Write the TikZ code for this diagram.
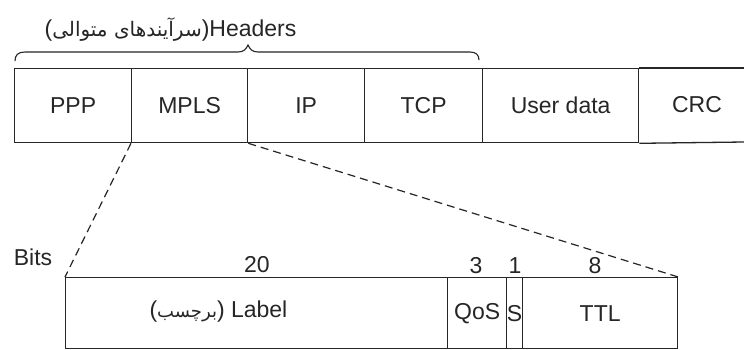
\documentclass[tikz,border=0pt]{standalone}
\usepackage{fontspec}
\setmainfont{Liberation Sans}
\newfontfamily\arabicfont[Script=Arabic]{DejaVu Sans}
\TeXXeTstate=1
\begin{document}
\begin{tikzpicture}[x=1pt,y=-1pt,line width=1.3pt,
  txt/.style={font=\fontsize{23}{26}\selectfont,inner sep=0pt,text=black!85},
  cell/.style={draw=black!85,minimum height=74pt,inner sep=0pt,anchor=north west,font=\fontsize{23}{26}\selectfont,text=black!85},
  bcell/.style={draw=black!85,minimum height=71pt,inner sep=0pt,anchor=north west,font=\fontsize{23}{26}\selectfont,text=black!85},
  dashline/.style={draw=black!85,dash pattern=on 8pt off 5pt,line width=1.2pt}]
\useasboundingbox (0,0) rectangle (744,349);
\fill[white] (0,0) rectangle (744,349);
% header text
\node[txt,anchor=east] (hdr) at (297,30) {({\arabicfont\fontsize{20}{24}\selectfont\beginR سرآیندهای متوالی\endR})Headers};
% brace
\draw[black!85,line width=1.1pt] (15,61) .. controls (15,55) and (18,52) .. (25,52) -- (238,52)
  .. controls (244,52) and (246,49) .. (248,45) .. controls (250,49) and (252,52) .. (258,52)
  -- (470,52) .. controls (476,52) and (479,55) .. (479,60);
% top row
\node[cell,minimum width=117pt] (ppp) at (14,68) {PPP};
\node[cell,minimum width=116pt] (mpls) at (131,68) {MPLS};
\node[cell,minimum width=117pt] (ip) at (247,68) {IP};
\node[cell,minimum width=118pt] (tcp) at (364,68) {TCP};
\node[cell,minimum width=156pt] (ud) at (482,68) {User data};
\node[txt] (crc) at (697,105) {CRC};
\coordinate (rt) at (744,68);
\coordinate (rb) at (744,142);
\draw[black!85] (ud.north east) -- (rt);
\draw[black!85] (ud.south east) -- (rb);
% bottom row
\node[bcell,minimum width=382pt] (lab) at (65,277) {};
\node[bcell,minimum width=59pt] (qos) at (447,277) {QoS};
\node[bcell,minimum width=16pt] (s) at (506,277) {S};
\node[bcell,minimum width=155pt] (ttl) at (522,277) {TTL};
\node[txt,anchor=east] (labtxt) at (288,312) {({\arabicfont\fontsize{18}{21}\selectfont\beginR برچسب\endR}) Label};
% bits and numbers
\node[txt] (bits) at (33,257) {Bits};
\node[txt] (n20) at (257,265) {20};
\node[txt] (n3) at (476,266) {3};
\node[txt] (n1) at (515,266) {1};
\node[txt] (n8) at (595,266) {8};
% dashed connectors
\draw[dashline] (mpls.south west) -- (lab.north west);
\draw[dashline] (mpls.south east) -- (ttl.north east);
\end{tikzpicture}
\end{document}
